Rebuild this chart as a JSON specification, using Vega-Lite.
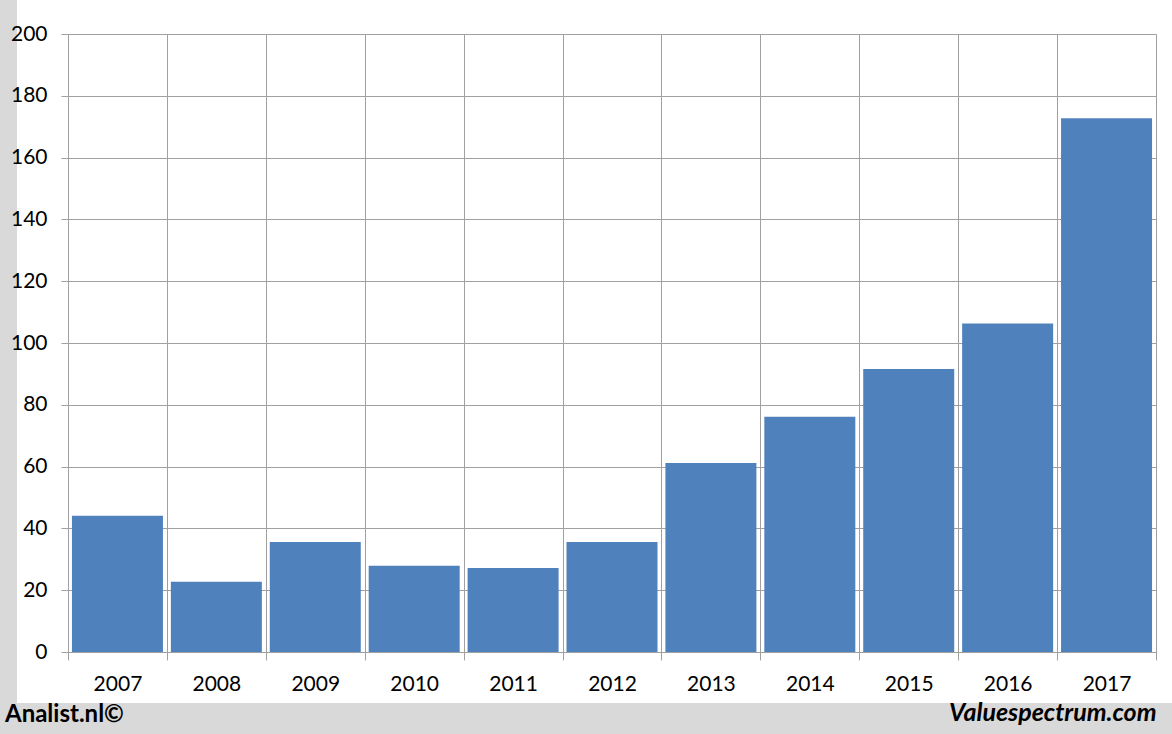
{
  "$schema": "https://vega.github.io/schema/vega-lite/v6.json",
  "autosize": "none",
  "width": 1088,
  "height": 618,
  "padding": {"left": 68, "top": 34, "right": 16, "bottom": 82},
  "background": "#d9d9d9",
  "config": {
    "view": {"fill": "white", "stroke": "white", "strokeWidth": 102},
    "font": "Lato"
  },
  "title": {
    "text": "Analist.nl©",
    "orient": "bottom",
    "anchor": "start",
    "frame": "group",
    "offset": -22,
    "dx": -63,
    "font": "Lato",
    "fontSize": 24,
    "fontWeight": "bold",
    "color": "black"
  },
  "data": {
    "values": [
      {"year": "2007", "value": 44.1},
      {"year": "2008", "value": 22.7},
      {"year": "2009", "value": 35.6},
      {"year": "2010", "value": 27.9},
      {"year": "2011", "value": 27.2},
      {"year": "2012", "value": 35.6},
      {"year": "2013", "value": 61.2},
      {"year": "2014", "value": 76.1},
      {"year": "2015", "value": 91.6},
      {"year": "2016", "value": 106.3},
      {"year": "2017", "value": 172.7}
    ]
  },
  "mark": {"type": "bar", "color": "#4f81bd", "width": {"band": 0.92}},
  "encoding": {
    "x": {
      "field": "year",
      "type": "ordinal",
      "scale": {"paddingInner": 0, "paddingOuter": 0},
      "axis": {
        "title": "Valuespectrum.com",
        "titleAnchor": "end",
        "titleFont": "Lato",
        "titleFontSize": 25,
        "titleFontWeight": "bold",
        "titleFontStyle": "italic",
        "titleColor": "black",
        "titlePadding": 6,
        "labelAngle": 0,
        "labelFont": "Lato",
        "labelFontSize": 21,
        "labelColor": "black",
        "labelPadding": 13,
        "tickBand": "extent",
        "tickSize": 8,
        "tickColor": "#a0a0a0",
        "grid": true,
        "gridColor": "#a0a0a0",
        "domainColor": "#a0a0a0"
      }
    },
    "y": {
      "field": "value",
      "type": "quantitative",
      "scale": {"domain": [0, 200], "nice": false},
      "axis": {
        "title": null,
        "values": [0, 20, 40, 60, 80, 100, 120, 140, 160, 180, 200],
        "labelFont": "Lato",
        "labelFontSize": 21,
        "labelColor": "black",
        "labelPadding": 14,
        "tickSize": 7,
        "tickColor": "#a0a0a0",
        "grid": true,
        "gridColor": "#a0a0a0",
        "domainColor": "#a0a0a0"
      }
    }
  }
}
